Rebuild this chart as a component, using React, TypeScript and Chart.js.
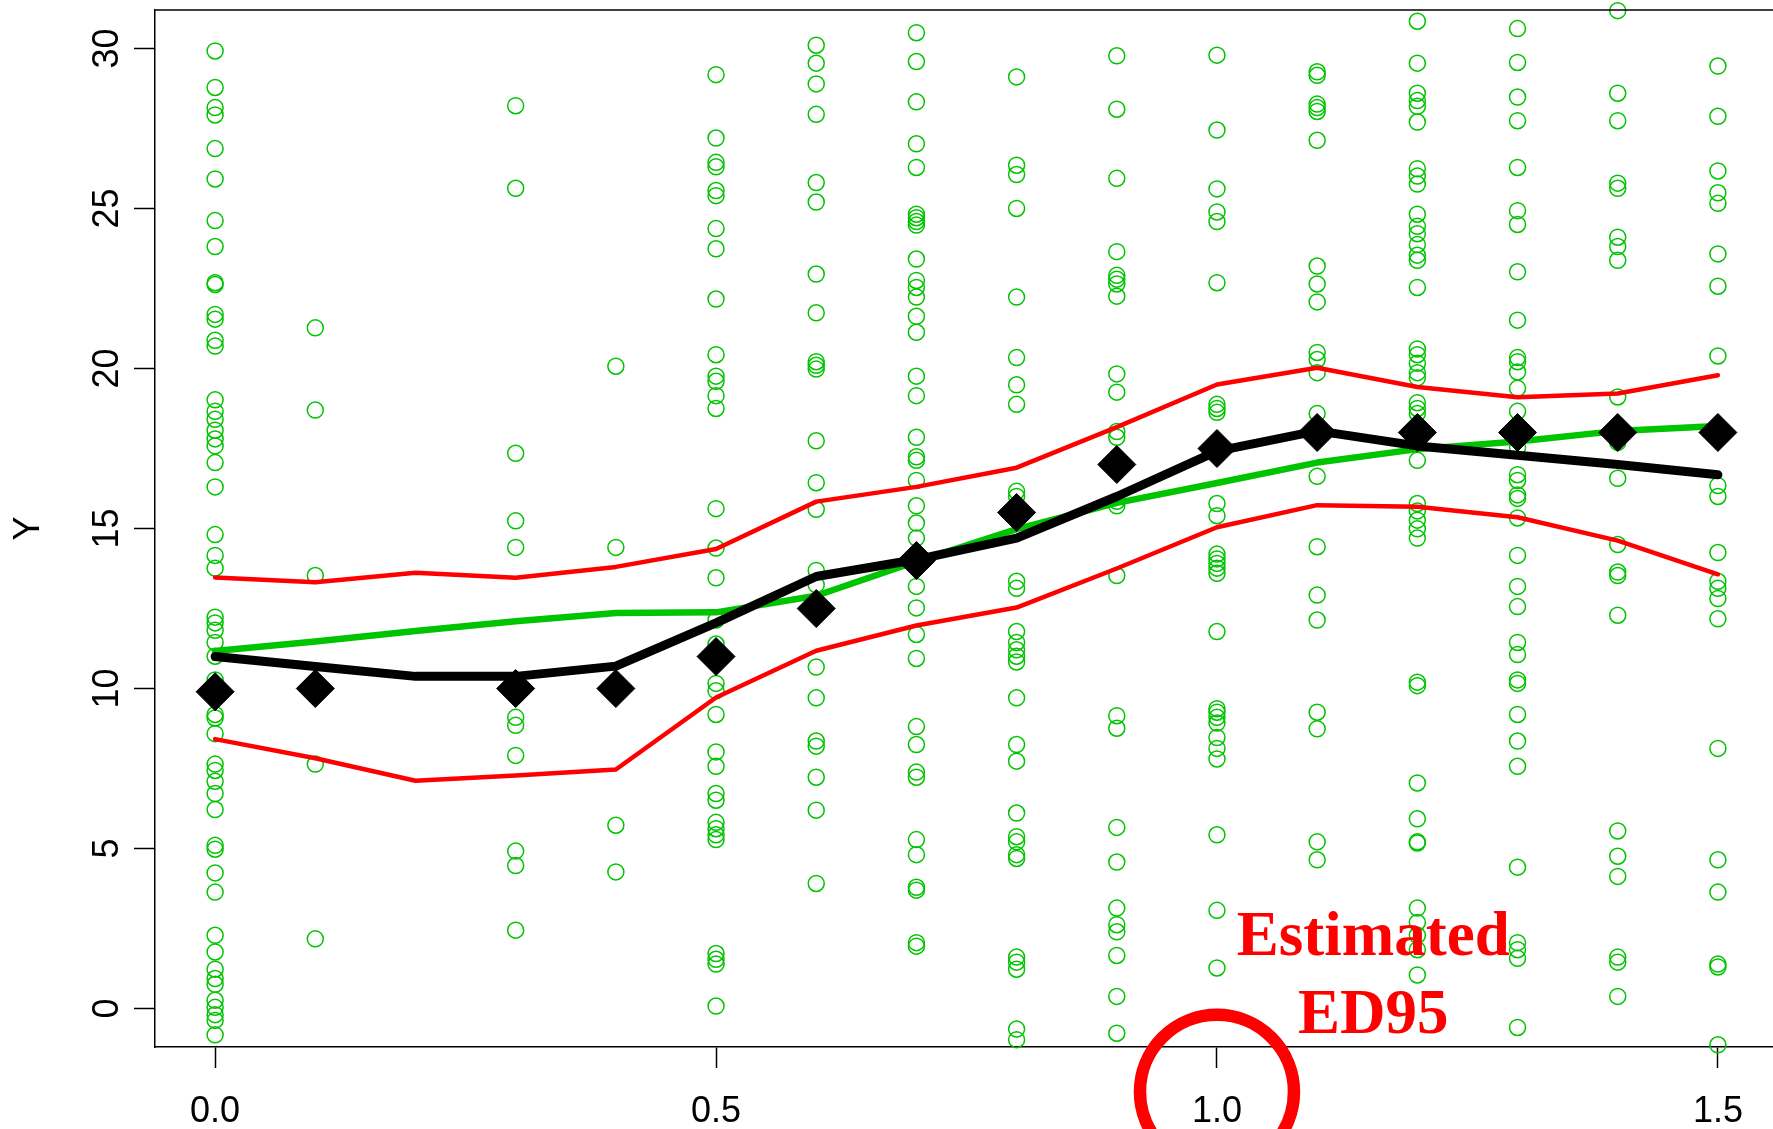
import { useEffect, useRef } from 'react';
import { Chart, registerables } from 'chart.js';

Chart.register(...registerables);

// Dose levels with observed responses
const doseLevels = [0, 0.1, 0.3, 0.4, 0.5, 0.6, 0.7, 0.8, 0.9, 1.0, 1.1, 1.2, 1.3, 1.4, 1.5];

const responsesDose00 = [29.92, 28.78, 28.15, 27.92, 26.87, 25.92, 24.62, 23.81, 22.68, 22.62, 21.69, 21.54, 20.88, 20.7, 19.02, 18.66, 18.41, 18.07, 17.8, 17.58, 17.06, 16.3, 14.81, 14.16, 13.76, 12.23, 12.05, 11.82, 11.44, 11.01, 10.27, 9.19, 9.08, 8.59, 7.64, 7.44, 7.1, 6.72, 6.22, 5.1, 4.98, 4.24, 3.64, 2.29, 1.77, 1.23, 0.94, 0.76, 0.26, 0.04, -0.19, -0.37, -0.82];
const responsesDose01 = [21.27, 18.7, 13.53, 7.64, 2.18];
const responsesDose03 = [28.21, 25.63, 17.35, 15.24, 14.41, 9.1, 8.85, 7.91, 4.92, 4.47, 2.45];
const responsesDose04 = [20.07, 14.41, 5.73, 4.27];
const responsesDose05 = [29.18, 27.2, 26.44, 26.3, 25.56, 25.4, 24.37, 23.74, 22.17, 20.43, 19.76, 19.6, 19.15, 18.75, 15.62, 14.39, 13.46, 12.14, 11.39, 10.16, 9.93, 9.19, 8.02, 7.57, 6.72, 6.51, 5.82, 5.62, 5.43, 5.28, 1.72, 1.54, 1.39, 0.08];
const responsesDose06 = [30.1, 29.54, 28.89, 27.94, 25.81, 25.2, 22.95, 21.74, 20.21, 20.1, 19.98, 17.74, 16.43, 15.6, 13.69, 13.24, 12.52, 10.67, 9.71, 8.36, 8.2, 7.23, 6.2, 3.91];
const responsesDose07 = [30.49, 29.59, 28.33, 27.02, 26.28, 24.82, 24.71, 24.59, 24.48, 23.42, 22.75, 22.53, 22.23, 21.63, 21.13, 19.76, 19.15, 17.85, 17.24, 17.13, 16.5, 15.71, 15.17, 14.7, 14.2, 13.19, 12.52, 11.69, 10.94, 8.81, 8.25, 7.39, 7.23, 5.28, 4.81, 3.79, 3.7, 2.06, 1.95];
const responsesDose08 = [29.11, 26.35, 26.06, 25.0, 22.23, 20.34, 19.49, 18.88, 16.16, 16.0, 15.51, 13.35, 13.13, 11.78, 11.44, 11.21, 11.01, 10.83, 9.71, 8.25, 7.73, 6.11, 5.37, 5.21, 4.81, 4.69, 1.61, 1.45, 1.23, -0.64, -0.97];
const responsesDose09 = [29.77, 28.1, 25.94, 23.65, 22.91, 22.79, 22.64, 22.26, 19.83, 19.26, 18.03, 17.85, 15.85, 15.71, 13.53, 9.15, 8.76, 5.66, 4.58, 3.14, 2.62, 2.4, 1.66, 0.38, -0.77];
const responsesDose10 = [29.79, 27.45, 25.61, 24.89, 24.59, 22.68, 18.88, 18.75, 18.63, 15.78, 15.4, 14.2, 14.05, 13.91, 13.76, 13.6, 11.78, 9.37, 9.26, 9.1, 8.92, 8.47, 8.13, 7.8, 5.43, 3.07, 1.27];
const responsesDose11 = [29.27, 29.16, 28.26, 28.15, 28.03, 27.13, 23.2, 22.64, 22.08, 20.5, 20.28, 19.87, 18.59, 18.03, 16.63, 14.43, 12.92, 12.14, 9.26, 8.74, 5.21, 4.65];
const responsesDose12 = [30.85, 29.54, 28.6, 28.37, 28.19, 27.7, 26.24, 26.01, 25.76, 24.82, 24.44, 24.21, 23.87, 23.54, 23.38, 22.53, 20.61, 20.43, 20.16, 19.87, 19.71, 18.93, 18.75, 18.59, 18.03, 17.13, 15.78, 15.55, 15.26, 14.99, 14.7, 10.2, 10.09, 7.05, 5.93, 5.21, 5.17, 3.14, 2.69, 2.29, 1.84, 1.05];
const responsesDose13 = [30.62, 29.56, 28.48, 27.74, 26.28, 24.93, 24.5, 23.02, 21.51, 20.34, 20.21, 19.89, 19.38, 18.66, 17.53, 16.68, 16.5, 16.05, 15.94, 15.33, 14.16, 13.19, 12.56, 11.44, 11.06, 10.27, 10.16, 9.19, 8.36, 7.57, 4.42, 2.06, 1.84, 1.57, -0.59];
const responsesDose14 = [31.18, 28.6, 27.74, 25.79, 25.63, 24.1, 23.81, 23.38, 19.11, 17.69, 16.57, 14.5, 13.64, 13.53, 12.29, 5.55, 4.76, 4.13, 1.61, 1.45, 0.38];
const responsesDose15 = [29.45, 27.88, 26.17, 25.49, 25.16, 23.58, 22.57, 20.39, 16.34, 16.0, 14.25, 13.35, 13.13, 12.81, 12.18, 8.13, 4.65, 3.64, 1.39, 1.3, -1.13];

const responsesByDose = [
  responsesDose00, responsesDose01, responsesDose03, responsesDose04, responsesDose05,
  responsesDose06, responsesDose07, responsesDose08, responsesDose09, responsesDose10,
  responsesDose11, responsesDose12, responsesDose13, responsesDose14, responsesDose15,
];

// True mean response at each dose level
const trueMeans = [9.9, 10, 10, 10, 11, 12.5, 14, 15.5, 17, 17.5, 18, 18, 18, 18, 18];

// Curves evaluated on a regular dose grid
const curveDoses = [0, 0.1, 0.2, 0.3, 0.4, 0.5, 0.6, 0.7, 0.8, 0.9, 1.0, 1.1, 1.2, 1.3, 1.4, 1.5];
const fittedCurve = [11.0, 10.69, 10.38, 10.38, 10.7, 12.05, 13.5, 14.03, 14.7, 16.0, 17.42, 18.05, 17.58, 17.29, 17.0, 16.68];
const smoothCurve = [11.17, 11.47, 11.8, 12.1, 12.36, 12.38, 12.9, 13.97, 14.98, 15.8, 16.42, 17.06, 17.48, 17.72, 18.05, 18.2];
const upperBand = [13.47, 13.32, 13.62, 13.46, 13.8, 14.36, 15.84, 16.3, 16.9, 18.17, 19.5, 20.02, 19.42, 19.1, 19.22, 19.79];
const lowerBand = [8.42, 7.82, 7.12, 7.28, 7.47, 9.72, 11.18, 11.97, 12.53, 13.75, 15.04, 15.73, 15.68, 15.35, 14.62, 13.57];

// Axis ticks
const xTicks = [0, 0.5, 1.0, 1.5];
const yTicks = [0, 5, 10, 15, 20, 25, 30];

// Annotation
const ed95Dose = 1.0;
const noteLines = ['Estimated', 'ED95'];

const GREEN = '#00C400';
const RED = '#FF0000';
const AXIS_FONT = '36px "Liberation Sans", Arial, Helvetica, sans-serif';
const NOTE_FONT = 'bold 63px "Liberation Serif", "Times New Roman", serif';

const axesAndNotes = {
  id: 'axesAndNotes',
  afterDraw(chart: any) {
    const { ctx, chartArea, scales } = chart;
    const xs = scales.x;
    const ys = scales.y;
    ctx.save();

    // top edge of the plot box
    ctx.strokeStyle = '#000';
    ctx.lineWidth = 1.5;
    ctx.beginPath();
    ctx.moveTo(chartArea.left, chartArea.top);
    ctx.lineTo(chartArea.right, chartArea.top);
    ctx.stroke();

    // tick labels
    ctx.fillStyle = '#000';
    ctx.font = AXIS_FONT;
    ctx.textAlign = 'center';
    ctx.textBaseline = 'alphabetic';
    xTicks.forEach((v) => {
      ctx.fillText(v.toFixed(1), xs.getPixelForValue(v), chartArea.bottom + 75);
    });
    yTicks.forEach((v) => {
      ctx.save();
      ctx.translate(chartArea.left - 37.5, ys.getPixelForValue(v));
      ctx.rotate(-Math.PI / 2);
      ctx.fillText(String(v), 0, 0);
      ctx.restore();
    });

    // y axis title
    ctx.save();
    ctx.translate(38.5, (chartArea.top + chartArea.bottom) / 2);
    ctx.rotate(-Math.PI / 2);
    ctx.fillText('Y', 0, 0);
    ctx.restore();

    // ED95 marker circle on the dose axis
    ctx.strokeStyle = RED;
    ctx.lineWidth = 12.5;
    ctx.beginPath();
    ctx.arc(xs.getPixelForValue(ed95Dose), ys.getPixelForValue(-2.6), 77, 0, Math.PI * 2);
    ctx.stroke();

    // note text
    ctx.fillStyle = RED;
    ctx.font = NOTE_FONT;
    ctx.textAlign = 'center';
    const nx = xs.getPixelForValue(1.156);
    ctx.fillText(noteLines[0], nx, ys.getPixelForValue(1.66));
    ctx.fillText(noteLines[1], nx, ys.getPixelForValue(-0.75));

    ctx.restore();
  },
};

export default function App() {
  const canvasRef = useRef<HTMLCanvasElement>(null);

  useEffect(() => {
    const canvas = canvasRef.current;
    if (!canvas) return;

    const observations: { x: number; y: number }[] = [];
    doseLevels.forEach((d, i) => {
      responsesByDose[i].forEach((y) => observations.push({ x: d, y }));
    });
    const meanPoints = doseLevels.map((d, i) => ({ x: d, y: trueMeans[i] }));
    const toCurve = (vals: number[]) => curveDoses.map((d, i) => ({ x: d, y: vals[i] }));

    const lineStyle = {
      showLine: true,
      pointRadius: 0,
      pointHoverRadius: 0,
      tension: 0,
      borderCapStyle: 'round' as const,
      borderJoinStyle: 'round' as const,
      fill: false,
    };

    const chart = new Chart(canvas, {
      type: 'scatter',
      data: {
        datasets: [
          {
            label: 'True mean',
            data: meanPoints,
            pointStyle: 'rectRot',
            pointRadius: 19,
            pointHoverRadius: 19,
            backgroundColor: '#000',
            borderColor: '#000',
            borderWidth: 1,
          },
          { label: 'Fitted', data: toCurve(fittedCurve), borderColor: '#000', borderWidth: 9, ...lineStyle },
          { label: 'Upper', data: toCurve(upperBand), borderColor: RED, borderWidth: 4.5, ...lineStyle },
          { label: 'Lower', data: toCurve(lowerBand), borderColor: RED, borderWidth: 4.5, ...lineStyle },
          { label: 'Smooth', data: toCurve(smoothCurve), borderColor: GREEN, borderWidth: 6.5, ...lineStyle },
          {
            label: 'Observed',
            data: observations,
            pointStyle: 'circle',
            pointRadius: 8,
            pointHoverRadius: 8,
            backgroundColor: 'rgba(0,0,0,0)',
            borderColor: GREEN,
            borderWidth: 1.5,
            clip: false as any,
          },
        ],
      },
      options: {
        responsive: false,
        devicePixelRatio: 1,
        animation: false,
        events: [],
        layout: { autoPadding: false, padding: { top: 10, left: 0, right: 0, bottom: 0 } },
        plugins: { legend: { display: false }, tooltip: { enabled: false } },
        scales: {
          x: {
            type: 'linear',
            min: -0.06,
            max: 1.555,
            afterFit: (s: any) => { s.height = 82; },
            afterBuildTicks: (s: any) => { s.ticks = xTicks.map((v) => ({ value: v })); },
            ticks: { display: false },
            grid: { display: true, drawOnChartArea: false, drawTicks: true, tickLength: 21, tickWidth: 1.5, tickColor: '#000' },
            border: { display: true, color: '#000', width: 1.5 },
          },
          y: {
            type: 'linear',
            min: -1.2,
            max: 31.2,
            afterFit: (s: any) => { s.width = 155; },
            afterBuildTicks: (s: any) => { s.ticks = yTicks.map((v) => ({ value: v })); },
            ticks: { display: false },
            grid: { display: true, drawOnChartArea: false, drawTicks: true, tickLength: 21, tickWidth: 1.5, tickColor: '#000' },
            border: { display: true, color: '#000', width: 1.5 },
          },
        },
      },
      plugins: [axesAndNotes],
    });

    return () => chart.destroy();
  }, []);

  return (
    <div style={{ position: 'fixed', left: 0, top: 0, width: 1773, height: 1129, background: '#fff' }}>
      <canvas ref={canvasRef} width={1773} height={1129} style={{ display: 'block', width: 1773, height: 1129 }} />
    </div>
  );
}
